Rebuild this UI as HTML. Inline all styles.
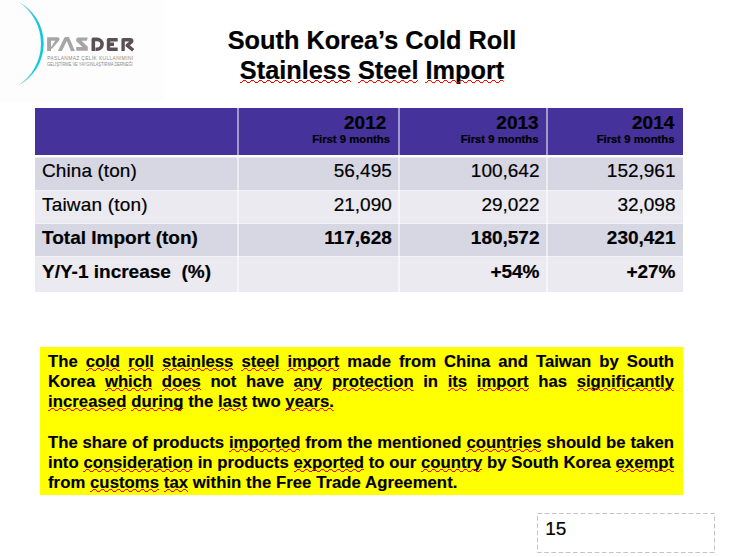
<!DOCTYPE html>
<html><head><meta charset="utf-8">
<style>
html,body{margin:0;padding:0;background:#fff;}
body{width:748px;height:557px;position:relative;overflow:hidden;font-family:"Liberation Sans",sans-serif;color:#000;}
.a{position:absolute;white-space:pre;line-height:1;-webkit-text-stroke-width:0.2px;}
.b{font-weight:bold;}
.r{text-align:right;}
.cell{position:absolute;}
.sq{position:relative;}
.w{position:absolute;left:0;top:calc(0.905em + 0px);width:100%;height:5px;overflow:hidden;}
.jl{position:absolute;left:48px;width:626px;white-space:nowrap;text-align:justify;text-align-last:justify;font-weight:bold;font-size:16.7px;line-height:20px;-webkit-text-stroke-width:0.15px;}
.ll{position:absolute;left:48px;white-space:nowrap;letter-spacing:0.06px;font-weight:bold;font-size:16.7px;line-height:20px;-webkit-text-stroke-width:0.15px;}
</style></head>
<body>
<svg width="0" height="0" style="position:absolute"><defs><pattern id="wv" patternUnits="userSpaceOnUse" x="2" width="8" height="5"><g fill="#f00" shape-rendering="crispEdges"><rect x="1" y="1" width="3" height="1"/><rect x="0" y="2" width="1" height="1"/><rect x="4" y="2" width="1" height="1"/><rect x="5" y="3" width="3" height="1"/></g></pattern></defs></svg>
<!-- logo -->
<div class="cell" style="left:0;top:0;width:165px;height:102px;background:#fdfdfd"></div>
<svg style="position:absolute;left:0;top:0" width="150" height="95" viewBox="0 0 150 95">
  <defs><linearGradient id="arcg" x1="0" y1="0" x2="0" y2="1">
    <stop offset="0" stop-color="#a8d0d6"/><stop offset="0.2" stop-color="#20c4d8"/><stop offset="0.5" stop-color="#0ecbde"/><stop offset="0.8" stop-color="#14c8e0"/><stop offset="1" stop-color="#9ad6de"/></linearGradient></defs>
  <path d="M17.5 1.2 A47.25 47.25 0 0 1 17.5 85.8 A49.85 49.85 0 0 0 17.5 1.2 Z" fill="url(#arcg)"/>
  <g fill="#a6a6a6" fill-rule="evenodd">
    <path d="M47.1 50.9 V37.2 H57.6 Q59.6 37.2 59.6 39 Q59.6 40 58.9 40.8 L52.4 48.2 Q51.8 48.8 51 48.8 V50.9 Z M51 40.8 H55.2 L51 47.2 Z"/>
    <path d="M57.9 50.9 L64.3 37.8 Q64.7 37.1 65.5 37.1 H68.3 Q69 37.1 69.3 37.8 L74.9 50.9 H70.9 L66.8 40.9 L61.9 50.9 Z"/>
    <path d="M77.8 37.4 H87.8 L86.9 40.7 H81.6 L87.8 46.8 V50.8 H76.2 V47 H82.4 L76.6 41.4 Q75.7 40.3 76.3 38.9 Q77 37.4 77.8 37.4 Z"/>
  </g>
  <g fill="none" stroke="#5b5154" stroke-width="3.4" stroke-linejoin="round">
    <path d="M93.3 51 V39.4 H97 A5.1 4.9 0 0 1 97 49.2 H95.5" stroke-width="3.6"/>
    <path d="M117.7 39.7 H108.5 V49.2 H117.7 M108.5 44.3 H114"/>
    <path d="M123.1 51 V39.7 H130.2 Q132.3 39.7 131.6 41.8 L127.2 45.4 L133.2 50.3"/>
  </g>
</svg>
<div class="a" style="left:47.2px;top:56.8px;font-size:4.8px;color:#8a8a8a;letter-spacing:0.41px;-webkit-text-stroke-width:0">PASLANMAZ ÇELİK KULLANIMINI</div>
<div class="a" style="left:47.2px;top:61.5px;font-size:5.5px;color:#8a8a8a;-webkit-text-stroke-width:0;transform-origin:0 0;transform:scaleX(0.73)">GELİŞTİRME VE YAYGINLAŞTIRMA DERNEĞİ</div>

<!-- title -->
<div class="a b" style="left:0;width:744px;text-align:center;top:28.3px;font-size:25.3px;">South Korea’s Cold Roll</div>
<div class="a b" style="left:0;width:744px;text-align:center;top:58px;font-size:25.3px;"><span class="sq">Stainless<svg class="w"><rect width="100%" height="5" fill="url(#wv)"/></svg></span> <span class="sq">Steel<svg class="w"><rect width="100%" height="5" fill="url(#wv)"/></svg></span> <span class="sq">Import<svg class="w"><rect width="100%" height="5" fill="url(#wv)"/></svg></span></div>

<!-- table -->
<div class="cell" style="left:35px;top:108px;width:647.5px;height:47px;background:#45339b"></div>
<div class="cell" style="left:35px;top:157px;width:647.5px;height:1px;background:#e9e8f0"></div>
<div class="cell" style="left:35px;top:158px;width:647.5px;height:32px;background:#d7d6e3"></div>
<div class="cell" style="left:35px;top:190px;width:647.5px;height:1px;background:#f2f1f6"></div>
<div class="cell" style="left:35px;top:191px;width:647.5px;height:32px;background:#ebeaf1"></div>
<div class="cell" style="left:35px;top:223px;width:647.5px;height:1px;background:#f2f1f6"></div>
<div class="cell" style="left:35px;top:224px;width:647.5px;height:32px;background:#d7d6e3"></div>
<div class="cell" style="left:35px;top:256px;width:647.5px;height:1px;background:#f2f1f6"></div>
<div class="cell" style="left:35px;top:257px;width:647.5px;height:35px;background:#ebeaf1"></div>
<!-- header separators -->
<div class="cell" style="left:237.4px;top:108px;width:2px;height:47px;background:rgba(255,255,255,0.5)"></div>
<div class="cell" style="left:397.9px;top:108px;width:2px;height:47px;background:rgba(255,255,255,0.5)"></div>
<div class="cell" style="left:546px;top:108px;width:2px;height:47px;background:rgba(255,255,255,0.5)"></div>
<!-- body separators -->
<div class="cell" style="left:237.4px;top:155px;width:2px;height:137px;background:rgba(255,255,255,0.55)"></div>
<div class="cell" style="left:397.9px;top:155px;width:2px;height:137px;background:rgba(255,255,255,0.55)"></div>
<div class="cell" style="left:546px;top:155px;width:2px;height:137px;background:rgba(255,255,255,0.55)"></div>

<!-- header text -->
<div class="a b r" style="left:238px;width:148.3px;top:112.8px;font-size:19px;">2012</div>
<div class="a b r" style="left:238px;width:152px;top:133.8px;font-size:11.3px;">First 9 months</div>
<div class="a b r" style="left:398px;width:140.6px;top:112.8px;font-size:19px;">2013</div>
<div class="a b r" style="left:398px;width:140.5px;top:133.8px;font-size:11.3px;">First 9 months</div>
<div class="a b r" style="left:547px;width:127.3px;top:112.8px;font-size:19px;">2014</div>
<div class="a b r" style="left:547px;width:127.5px;top:133.8px;font-size:11.3px;">First 9 months</div>

<!-- body text -->
<div class="a" style="left:42px;top:161px;font-size:19px;letter-spacing:0.08px;">China (ton)</div>
<div class="a r" style="left:238px;width:153.8px;top:161px;font-size:19px;">56,495</div>
<div class="a r" style="left:398px;width:141.5px;top:161px;font-size:19px;">100,642</div>
<div class="a r" style="left:547px;width:128.5px;top:161px;font-size:19px;">152,961</div>

<div class="a" style="left:42px;top:194.8px;font-size:19px;letter-spacing:0.18px;">Taiwan (ton)</div>
<div class="a r" style="left:238px;width:153.8px;top:194.8px;font-size:19px;">21,090</div>
<div class="a r" style="left:398px;width:141.5px;top:194.8px;font-size:19px;">29,022</div>
<div class="a r" style="left:547px;width:128.5px;top:194.8px;font-size:19px;">32,098</div>

<div class="a b" style="left:42px;top:228px;font-size:19px;">Total Import (ton)</div>
<div class="a b r" style="left:238px;width:153.8px;top:228px;font-size:19px;">117,628</div>
<div class="a b r" style="left:398px;width:141.5px;top:228px;font-size:19px;">180,572</div>
<div class="a b r" style="left:547px;width:128.5px;top:228px;font-size:19px;">230,421</div>

<div class="a b" style="left:42px;top:262px;font-size:19px;">Y/Y-1 increase  (%)</div>
<div class="a b r" style="left:398px;width:141.5px;top:262px;font-size:19px;">+54%</div>
<div class="a b r" style="left:547px;width:128.5px;top:262px;font-size:19px;">+27%</div>

<!-- yellow box -->
<div class="cell" style="left:40px;top:347px;width:643px;height:148px;background:#ffff00"></div>
<div class="jl" style="top:351.8px">The <span class="sq">cold<svg class="w"><rect width="100%" height="5" fill="url(#wv)"/></svg></span> <span class="sq">roll<svg class="w"><rect width="100%" height="5" fill="url(#wv)"/></svg></span> <span class="sq">stainless<svg class="w"><rect width="100%" height="5" fill="url(#wv)"/></svg></span> <span class="sq">steel<svg class="w"><rect width="100%" height="5" fill="url(#wv)"/></svg></span> <span class="sq">import<svg class="w"><rect width="100%" height="5" fill="url(#wv)"/></svg></span> made from China and Taiwan by South</div>
<div class="jl" style="top:371.8px">Korea <span class="sq">which<svg class="w"><rect width="100%" height="5" fill="url(#wv)"/></svg></span> <span class="sq">does<svg class="w"><rect width="100%" height="5" fill="url(#wv)"/></svg></span> not have <span class="sq">any<svg class="w"><rect width="100%" height="5" fill="url(#wv)"/></svg></span> <span class="sq">protection<svg class="w"><rect width="100%" height="5" fill="url(#wv)"/></svg></span> in <span class="sq">its<svg class="w"><rect width="100%" height="5" fill="url(#wv)"/></svg></span> <span class="sq">import<svg class="w"><rect width="100%" height="5" fill="url(#wv)"/></svg></span> has <span class="sq">significantly<svg class="w"><rect width="100%" height="5" fill="url(#wv)"/></svg></span></div>
<div class="ll" style="top:391.8px"><span class="sq">increased<svg class="w"><rect width="100%" height="5" fill="url(#wv)"/></svg></span> <span class="sq">during<svg class="w"><rect width="100%" height="5" fill="url(#wv)"/></svg></span> the <span class="sq">last<svg class="w"><rect width="100%" height="5" fill="url(#wv)"/></svg></span> two <span class="sq">years.<svg class="w"><rect width="100%" height="5" fill="url(#wv)"/></svg></span></div>
<div class="jl" style="top:433.2px">The share of products <span class="sq">imported<svg class="w"><rect width="100%" height="5" fill="url(#wv)"/></svg></span> from the mentioned <span class="sq">countries<svg class="w"><rect width="100%" height="5" fill="url(#wv)"/></svg></span> should be taken</div>
<div class="jl" style="top:453.2px">into <span class="sq">consideration<svg class="w"><rect width="100%" height="5" fill="url(#wv)"/></svg></span> in products <span class="sq">exported<svg class="w"><rect width="100%" height="5" fill="url(#wv)"/></svg></span> to our <span class="sq">country<svg class="w"><rect width="100%" height="5" fill="url(#wv)"/></svg></span> by South Korea <span class="sq">exempt<svg class="w"><rect width="100%" height="5" fill="url(#wv)"/></svg></span></div>
<div class="ll" style="top:473.2px">from <span class="sq">customs<svg class="w"><rect width="100%" height="5" fill="url(#wv)"/></svg></span> <span class="sq">tax<svg class="w"><rect width="100%" height="5" fill="url(#wv)"/></svg></span> within the Free Trade Agreement.</div>

<!-- page number -->
<svg style="position:absolute;left:536px;top:512px" width="180" height="43"><rect x="1.5" y="1.5" width="177" height="39" fill="none" stroke="#c4c4c4" stroke-width="1" stroke-dasharray="4.7 2.5"/></svg>
<div class="a" style="left:545.3px;top:518.8px;font-size:19px;">15</div>
</body></html>
